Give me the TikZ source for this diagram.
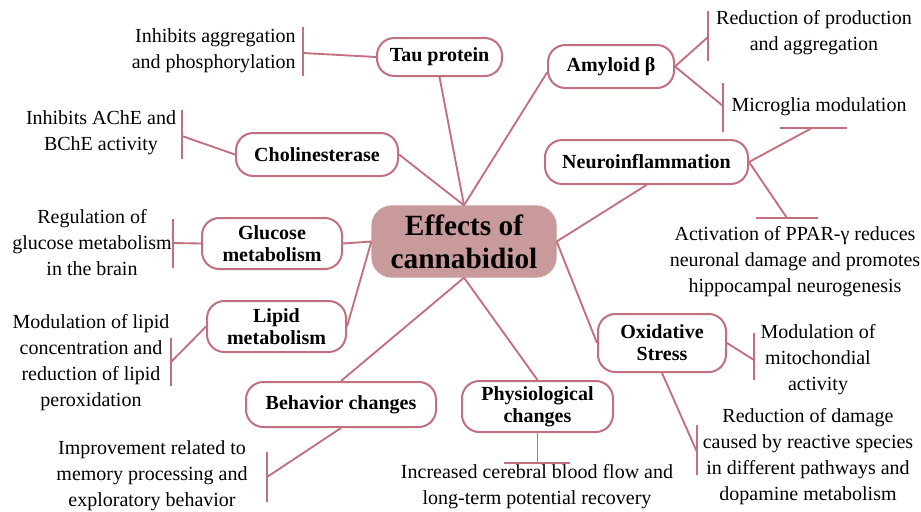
\documentclass[tikz,border=0pt]{standalone}
\usepackage{fontspec}
\setmainfont{Liberation Serif}
\definecolor{edgecol}{HTML}{C26F7E}
\definecolor{centfill}{HTML}{C99A9C}
\begin{document}
\begin{tikzpicture}[x=0.75pt,y=-0.75pt,
  mbox/.style={draw=edgecol, line width=1.5pt, rounded corners=13pt, fill=white,
    font=\fontsize{15}{16.5}\selectfont\bfseries, align=center, inner sep=0pt},
  cbox/.style={draw=centfill, line width=1pt, rounded corners=15pt, fill=centfill,
    font=\fontsize{22}{25}\selectfont\bfseries, align=center, inner sep=0pt},
  desc/.style={font=\fontsize{15}{19.5}\selectfont, align=center, inner sep=0pt},
  link/.style={draw=edgecol, line width=1.4pt},
  tbar/.style={draw=edgecol, line width=1.4pt}]
\useasboundingbox (0,0) rectangle (921,511);

% main nodes
\node[cbox, minimum width=138pt, minimum height=53.25pt] (c) at (464,241.5) {Effects of\\cannabidiol};
\node[mbox, minimum width=93.75pt, minimum height=28.5pt] (tau) at (439.5,57) {Tau protein};
\node[mbox, minimum width=94.5pt, minimum height=32.25pt] (amy) at (611,66.5) {Amyloid β};
\node[mbox, minimum width=152.25pt, minimum height=33pt] (neu) at (646.5,162) {Neuroinflammation};
\node[mbox, minimum width=121.5pt, minimum height=32.25pt] (chol) at (317,154.5) {Cholinesterase};
\node[mbox, minimum width=105pt, minimum height=38.25pt] (glu) at (272,243.5) {Glucose\\metabolism};
\node[mbox, minimum width=104.25pt, minimum height=38.25pt] (lip) at (276.5,326.5) {Lipid\\metabolism};
\node[mbox, minimum width=142.5pt, minimum height=33.75pt] (beh) at (341,404.5) {Behavior changes};
\node[mbox, minimum width=113.25pt, minimum height=38.25pt] (phy) at (537.5,406.5) {Physiological\\changes};
\node[mbox, minimum width=96pt, minimum height=43.5pt] (oxi) at (662,343) {Oxidative\\Stress};

% connectors to center
\begin{scope}[on background layer/.style={}]
\end{scope}
\draw[link] (tau.south) -- (c.north);
\draw[link] (chol.east) -- (c.north);
\draw[link] ([yshift=-4.5pt]amy.west) -- (c.north);
\draw[link] (glu.east) -- (c.west);
\draw[link] (lip.east) -- (c.west);
\draw[link] (beh.north) -- (c.south);
\draw[link] (phy.north) -- (c.south);
\draw[link] (neu.south) -- (c.east);
\draw[link] (oxi.west) -- (c.east);

% bar coordinates
\coordinate (btau) at (303,53);
\coordinate (bchol) at (182,136);
\coordinate (bglu) at (173,243);
\coordinate (blip) at (171,362);
\coordinate (bbeh) at (267,477);
\coordinate (bphy) at (537.5,463);
\coordinate (boxa) at (754,360);
\coordinate (boxb) at (697,452);
\coordinate (bamya) at (708,37);
\coordinate (bamyb) at (723,106);
\coordinate (bneua) at (812,128);
\coordinate (bneub) at (787,218);

\draw[link] (tau.west) -- (btau);
\draw[tbar] (303,27) -- (303,76);
\draw[link] (chol.west) -- (bchol);
\draw[tbar] (182,110) -- (182,159);
\draw[link] (glu.west) -- (bglu);
\draw[tbar] (173,219) -- (173,268);
\draw[link] (lip.west) -- (blip);
\draw[tbar] (171,338) -- (171,386);
\draw[link] (beh.south) -- (bbeh);
\draw[tbar] (267,452) -- (267,502);
\draw[link] (phy.south) -- (bphy);
\draw[tbar] (504,463) -- (570,463);
\draw[link] (oxi.east) -- (boxa);
\draw[tbar] (754,333) -- (754,380);
\draw[link] (oxi.south) -- (boxb);
\draw[tbar] (697,425) -- (697,475);
\draw[link] (amy.east) -- (bamya);
\draw[tbar] (708,11) -- (708,61);
\draw[link] (amy.east) -- (bamyb);
\draw[tbar] (723,83) -- (723,132);
\draw[link] (neu.east) -- (bneua);
\draw[tbar] (780,128) -- (847,128);
\draw[link] (neu.east) -- (bneub);
\draw[tbar] (756,218) -- (818,218);

% descriptions
\node[desc, align=right, anchor=east] (t1) at (296,51) {Inhibits aggregation\\and phosphorylation};
\node[desc] (t2) at (101,133) {Inhibits AChE and\\BChE activity};
\node[desc] (t3) at (92,243) {Regulation of\\glucose metabolism\\in the brain};
\node[desc] (t4) at (91,363) {Modulation of lipid\\concentration and\\reduction of lipid\\peroxidation};
\node[desc] (t5) at (152,476) {Improvement related to\\memory processing and\\exploratory behavior};
\node[desc] (t6) at (537,487) {Increased cerebral blood flow and\\long-term potential recovery};
\node[desc] (t7) at (818,360) {Modulation of\\mitochondial\\activity};
\node[desc] (t8) at (808,457) {Reduction of damage\\caused by reactive species\\in different pathways and\\dopamine metabolism};
\node[desc] (t9) at (814,33) {Reduction of production\\and aggregation};
\node[desc] (t10) at (819,107) {Microglia modulation};
\node[desc] (t11) at (795,262) {Activation of PPAR-γ reduces\\neuronal damage and promotes\\hippocampal neurogenesis};
\end{tikzpicture}
\end{document}
